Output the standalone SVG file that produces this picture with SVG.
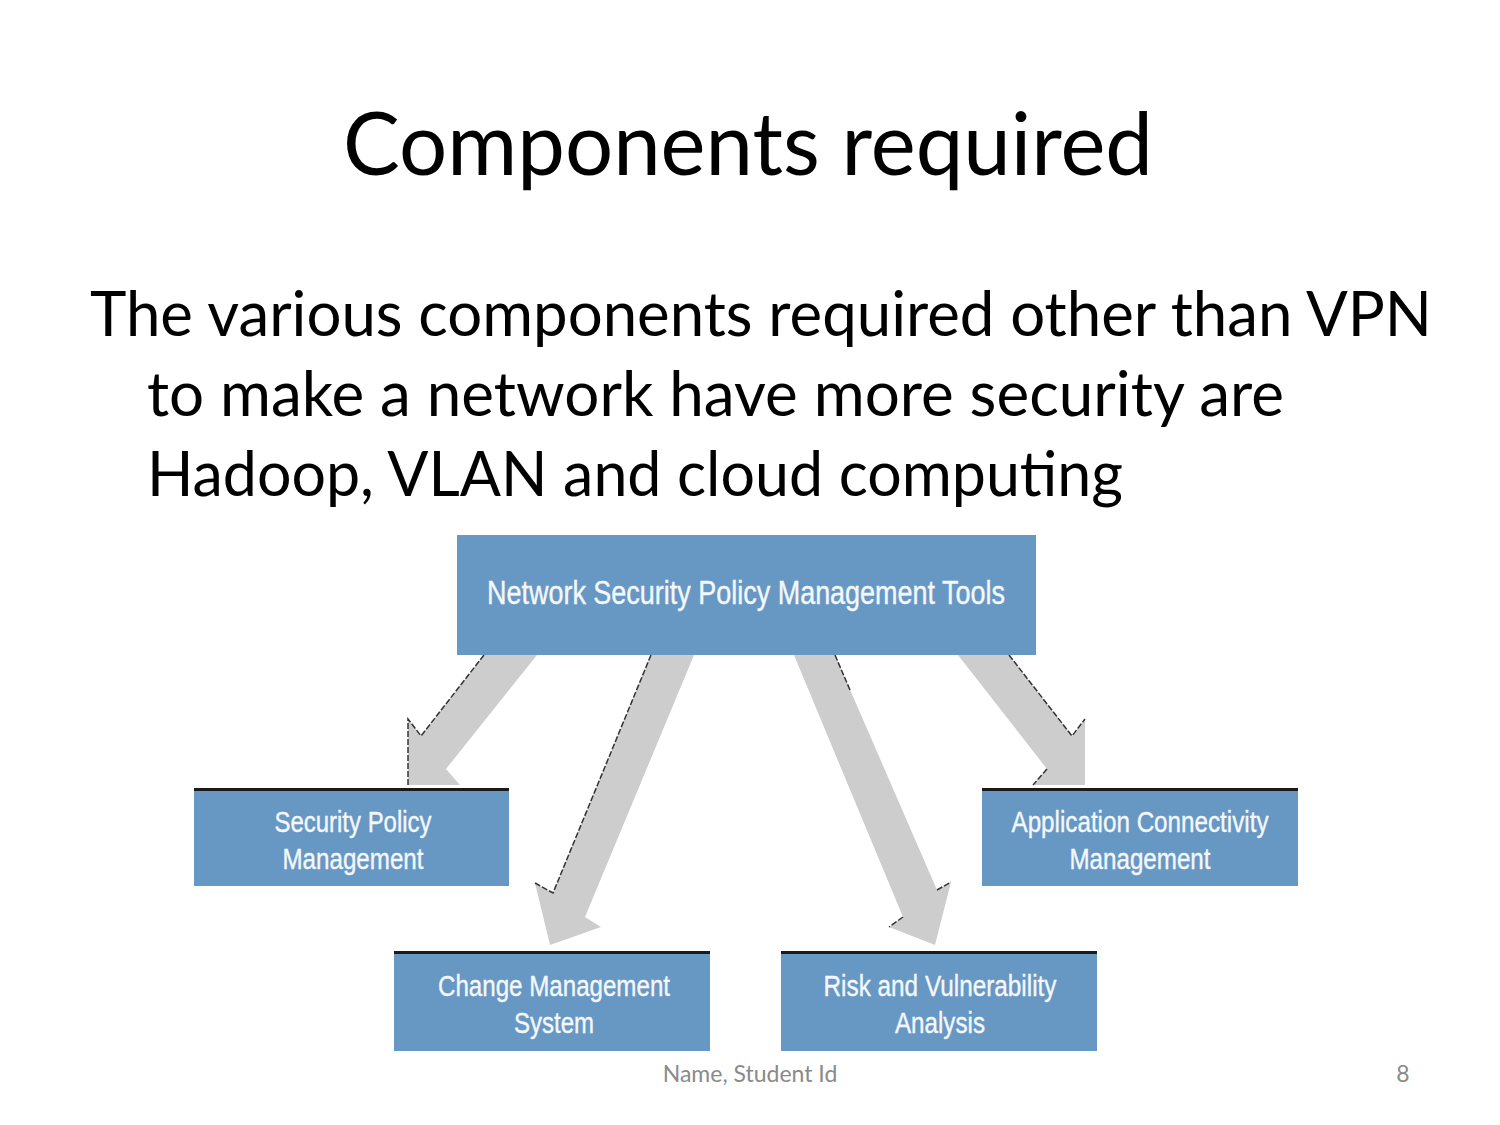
<svg xmlns="http://www.w3.org/2000/svg" width="1500" height="1125" viewBox="0 0 1500 1125">
<style>
.title{font-family:"Lato","Open Sans","Liberation Sans",sans-serif;font-size:88px;fill:#000}
.body{font-family:"Lato","Open Sans","Liberation Sans",sans-serif;font-size:62px;fill:#000}
.foot{font-family:"Lato","Open Sans","Liberation Sans",sans-serif;font-size:23px;fill:#8a8a8a}
.box{fill:#6798c4}
.topline{stroke:#1a1a1a;stroke-width:3}
.bt{font-family:"Liberation Sans",Arial,sans-serif;font-size:30px;fill:#f4f7fb;stroke:#f4f7fb;stroke-width:0.4;text-anchor:middle}
.arrow{fill:#cdcdcd}
.edge{fill:none;stroke:#333;stroke-width:1.5;stroke-dasharray:6 2}
</style>
<rect width="1500" height="1125" fill="#fff"/>
<text class="title" x="343" y="175" textLength="810" lengthAdjust="spacingAndGlyphs">Components required</text>
<text class="body" x="90" y="336" textLength="1342" lengthAdjust="spacingAndGlyphs">The various components required other than VPN</text>
<text class="body" x="147" y="416" textLength="1137" lengthAdjust="spacingAndGlyphs">to make a network have more security are</text>
<text class="body" x="147" y="496" textLength="976" lengthAdjust="spacingAndGlyphs">Hadoop, VLAN and cloud computing</text>

<g id="connectors">
  <polygon class="arrow" points="484,655 537,655 446,769 460,785 408,785 408,719 421,736"/>
  <polyline class="edge" points="484,655 421,736 408,719 408,785"/>
  <polygon class="arrow" points="651,655 694,655 585,917 601,927 550,945 535,883 553,893"/>
  <polyline class="edge" points="651,655 553,893 535,883"/>
  <polygon class="arrow" points="794,655 835,655 937,890 951,882 935,945 889,927 903,917"/>
  <polyline class="edge" points="835,655 850,690"/>
  <polyline class="edge" points="937,890 951,882"/>
  <polyline class="edge" points="903,917 889,927"/>
  <polygon class="arrow" points="958,655 1009,655 1072,736 1085,719 1085,785 1033,785 1047,769"/>
  <polyline class="edge" points="1009,655 1072,736 1085,719"/>
  <polyline class="edge" points="1047,769 1033,785"/>
</g>

<g id="node-top">
  <rect class="box" x="457" y="535" width="579" height="120"/>
  <text class="bt" x="746" y="604" style="font-size:33px" textLength="518" lengthAdjust="spacingAndGlyphs">Network Security Policy Management Tools</text>
</g>
<g id="node-security">
  <rect class="box" x="194" y="789" width="315" height="97"/>
  <line class="topline" x1="194" y1="789.5" x2="509" y2="789.5"/>
  <text class="bt" x="353" y="832" textLength="157" lengthAdjust="spacingAndGlyphs">Security Policy</text>
  <text class="bt" x="353" y="869" textLength="141" lengthAdjust="spacingAndGlyphs">Management</text>
</g>
<g id="node-change">
  <rect class="box" x="394" y="952" width="316" height="99"/>
  <line class="topline" x1="394" y1="952.5" x2="710" y2="952.5"/>
  <text class="bt" x="554" y="996" textLength="232" lengthAdjust="spacingAndGlyphs">Change Management</text>
  <text class="bt" x="554" y="1033" textLength="80" lengthAdjust="spacingAndGlyphs">System</text>
</g>
<g id="node-risk">
  <rect class="box" x="781" y="952" width="316" height="99"/>
  <line class="topline" x1="781" y1="952.5" x2="1097" y2="952.5"/>
  <text class="bt" x="940" y="996" textLength="233" lengthAdjust="spacingAndGlyphs">Risk and Vulnerability</text>
  <text class="bt" x="940" y="1033" textLength="90" lengthAdjust="spacingAndGlyphs">Analysis</text>
</g>
<g id="node-app">
  <rect class="box" x="982" y="789" width="316" height="97"/>
  <line class="topline" x1="982" y1="789.5" x2="1298" y2="789.5"/>
  <text class="bt" x="1140" y="832" textLength="257" lengthAdjust="spacingAndGlyphs">Application Connectivity</text>
  <text class="bt" x="1140" y="869" textLength="141" lengthAdjust="spacingAndGlyphs">Management</text>
</g>

<text class="foot" x="750" y="1082" text-anchor="middle">Name, Student Id</text>
<text class="foot" x="1403" y="1082" text-anchor="middle">8</text>
</svg>
